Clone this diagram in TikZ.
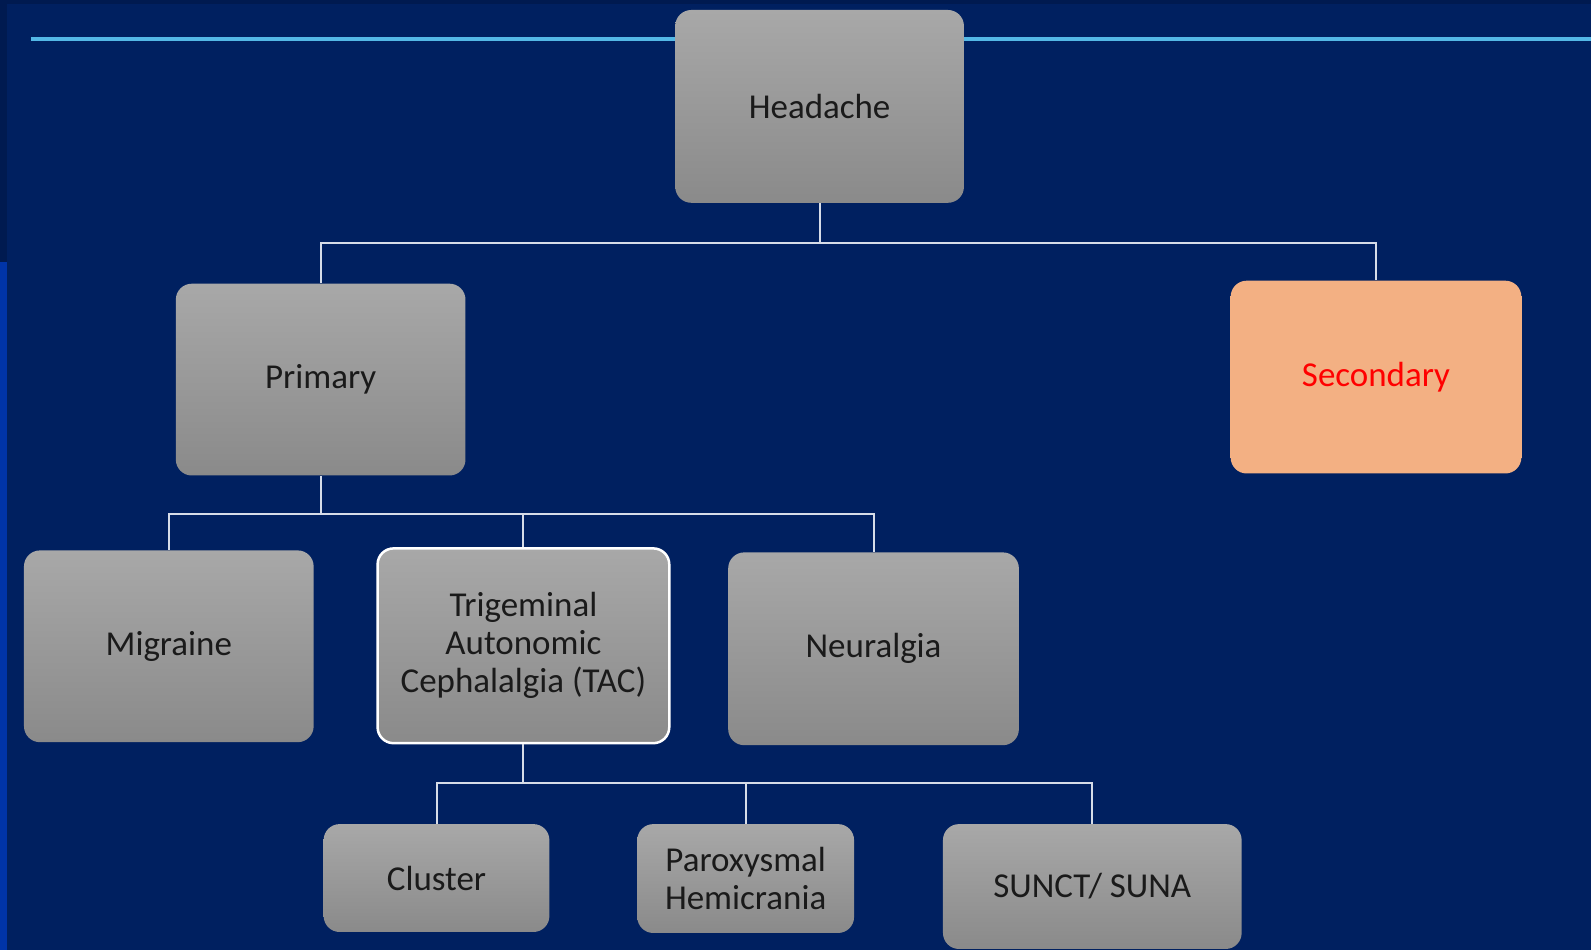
\documentclass[tikz,border=0pt]{standalone}
\usepackage{fontspec}
\setmainfont{Carlito}
\usepackage{tikz}
\usetikzlibrary{positioning}
\definecolor{navy}{RGB}{0,32,96}
\definecolor{navytop}{RGB}{0,26,80}
\definecolor{edgeblue}{RGB}{0,52,168}
\definecolor{rule}{RGB}{84,184,230}
\definecolor{boxtop}{RGB}{168,168,168}
\definecolor{boxbot}{RGB}{138,138,138}
\definecolor{boxtext}{RGB}{26,26,26}
\definecolor{peach}{RGB}{243,176,131}
\definecolor{wire}{RGB}{214,220,232}

\begin{document}
\begin{tikzpicture}[x=1pt,y=-1pt,
                    box/.style={rounded corners=16pt,top color=boxtop,bottom color=boxbot,
                    text=boxtext,align=center,inner sep=0pt,
                    font=\fontsize{35}{38}\selectfont},
                    link/.style={draw=wire,line width=2pt},
                    semithick]

 \fill[navy] (0,0) rectangle (1593,951);
 \fill[navytop] (0,0) rectangle (1593,4);
 \fill[navytop] (0,0) rectangle (7,262);
 \fill[edgeblue] (0,262) rectangle (7,951);
 \draw[rule,line width=3.5pt] (31,39) -- (1593,39);
 \useasboundingbox (0,0) rectangle (1593,951);

  \node[box,minimum width=289pt,minimum height=193pt] (H) at (820.5,106.5) {Headache};
  \node[box,minimum width=290pt,minimum height=192pt] (P) at (321,380) {Primary};
  \node[box,top color=peach,bottom color=peach,
        text=red,minimum width=291pt,minimum height=193pt] (S) at (1377.5,377.5) {Secondary};
  \node[box,minimum width=290pt,minimum height=192pt] (M) at (169,647) {Migraine};
  \node[box,draw=white,line width=2.5pt,minimum width=292pt,minimum height=195pt] (T) at (524,646.5)
       {Trigeminal\\Autonomic\\Cephalalgia (TAC)};
  \node[box,minimum width=291pt,minimum height=193pt] (N) at (874.5,649.5) {Neuralgia};
  \node[box,minimum width=226pt,minimum height=108pt] (C) at (437,879) {Cluster};
  \node[box,minimum width=217pt,minimum height=109pt] (X) at (746.5,879.5) {Paroxysmal\\Hemicrania};
  \node[box,minimum width=299pt,minimum height=125pt] (U) at (1093.5,887.5) {SUNCT/ SUNA};

  \coordinate (h) at (H.south |- 0,243);
  \coordinate (p) at (P.south |- 0,515);
  \coordinate (t) at (T.south |- 0,784);

  \path[link] (H.south) -- (h) -| (P.north)
              (h) -| (S.north)
              (P.south) -- (p) -| (M.north)
              (p) -| (T.north)
              (p) -| (N.north)
              (T.south) -- (t) -| (C.north)
              (t) -| (X.north)
              (t) -| (U.north);

\end{tikzpicture}
\end{document}
